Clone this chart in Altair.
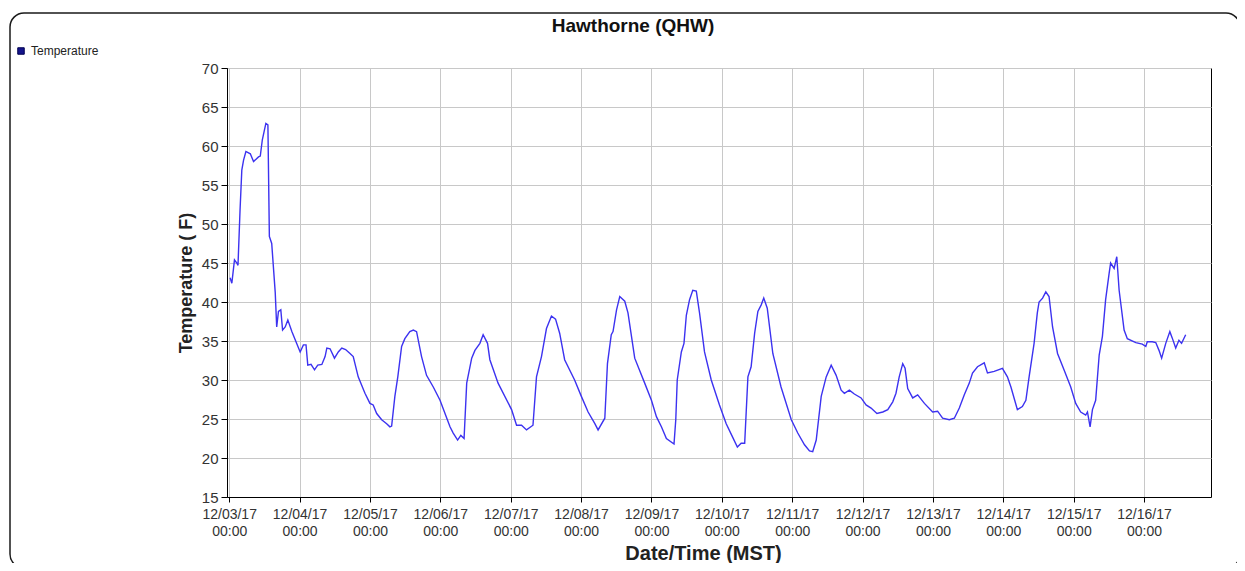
import altair as alt
import pandas as pd

# hours after 12/03/17 00:00 (MST) and temperature (F)
hours = [0.3, 0.9, 1.8, 2.6, 3.0, 3.7, 4.3, 4.9, 5.7, 7.2, 8.3, 10.0, 10.6, 11.3, 12.5, 13.2,
         13.7, 14.5, 15.7, 16.2, 16.8, 17.6, 18.2, 19.1, 20.0, 21.4, 24.2, 25.3, 26.2, 26.8,
         27.9, 29.1, 30.2, 31.6, 32.7, 33.3, 34.4, 35.9, 37.2, 38.4, 39.7, 41.2, 42.3, 44.0,
         46.3, 48.0, 49.1, 50.3, 52.0, 53.7, 54.8, 55.4, 56.5, 57.5, 58.8, 59.9, 61.6, 62.8,
         63.9, 65.6, 67.3, 69.6, 71.9, 73.6, 75.3, 76.4, 77.9, 79.0, 80.1, 81.0, 82.7, 83.8,
         85.5, 86.6, 88.1, 88.9, 91.7, 96.3, 98.0, 99.7, 101.4, 103.6, 104.8, 106.5, 108.2,
         109.9, 111.3, 112.7, 114.4, 117.8, 120.1, 122.4, 124.7, 125.8, 128.1, 129.0, 130.3,
         130.9, 132.1, 133.2, 134.9, 136.0, 138.3, 141.7, 144.0, 145.7, 147.4, 149.1, 151.7,
         152.3, 152.8, 154.2, 155.1, 155.9, 157.0, 158.1, 159.3, 160.4, 162.1, 164.4, 167.2,
         169.5, 171.4, 173.3, 174.6, 175.8, 176.9, 178.0, 179.2, 180.3, 181.4, 182.3, 183.5,
         185.4, 188.2, 191.7, 193.9, 196.2, 197.9, 199.0, 200.2, 201.9, 203.6, 205.3, 207.0,
         208.7, 209.8, 211.5, 213.2, 215.5, 217.2, 218.9, 220.9, 222.9, 224.6, 226.3, 227.4,
         228.5, 229.7, 230.5, 231.4, 233.1, 234.8, 237.1, 239.9, 241.6, 243.3, 245.6, 247.3,
         249.0, 250.7, 252.4, 253.5, 255.2, 257.5, 258.6, 260.9, 263.7, 265.4, 266.6, 268.8,
         270.5, 271.7, 272.8, 274.5, 275.6, 276.2, 277.4, 278.5, 279.6, 280.8, 282.5, 284.7,
         287.0, 288.7, 290.4, 292.1, 292.7, 293.6, 294.4, 295.5, 296.7, 297.8, 298.9, 300.1,
         300.6, 301.8, 302.7, 303.5, 305.2, 306.3, 309.2, 311.4, 312.6, 313.1, 314.8, 316.0,
         317.1, 318.0, 319.4, 320.8, 321.6, 322.8, 323.9, 324.8, 326.2]

temps = [43.1, 42.4, 45.4, 45.0, 44.7, 51.8, 56.9, 58.2, 59.3, 59.0, 58.0, 58.6, 58.7, 60.8, 62.9, 62.7,
         48.4, 47.5, 41.2, 36.8, 38.8, 39.0, 36.4, 36.8, 37.7, 36.2, 33.6, 34.5, 34.5, 31.9,
         32.0, 31.3, 31.9, 32.0, 33.0, 34.1, 34.0, 32.8, 33.6, 34.1, 33.9, 33.4, 33.0, 30.4,
         28.3, 27.0, 26.8, 25.7, 24.9, 24.4, 24.0, 24.1, 27.9, 30.4, 34.3, 35.3, 36.2, 36.4,
         36.2, 33.0, 30.6, 29.1, 27.4, 25.7, 24.0, 23.2, 22.3, 22.9, 22.5, 29.6, 32.8, 33.8,
         34.7, 35.8, 34.7, 32.6, 29.6, 26.2, 24.2, 24.2, 23.6, 24.2, 30.4, 33.0, 36.6,
         38.2, 37.8, 36.0, 32.6, 30.0, 27.9, 25.9, 24.4, 23.6, 25.1, 32.1, 35.8,
         36.2, 39.0, 40.7, 40.1, 38.6, 32.8, 29.6, 27.4, 25.3, 24.0, 22.5, 21.8,
         24.9, 30.0, 33.6, 34.7, 38.3, 40.3, 41.5, 41.4, 38.6, 33.6, 30.0, 26.8,
         24.4, 22.9, 21.4, 21.9, 21.9, 30.4, 31.7, 36.0, 38.8, 39.6, 40.5, 39.2,
         33.4, 29.1, 24.9, 23.2, 21.7, 20.9, 20.8, 22.3, 27.9, 30.4, 31.9, 30.6,
         28.7, 28.3, 28.7, 28.2, 27.7, 26.8, 26.4, 25.7, 25.9, 26.2, 27.2, 28.3,
         30.4, 32.1, 31.5, 28.9, 27.7, 28.1, 27.0, 25.9, 26.0, 25.1, 24.9, 25.1,
         26.4, 28.1, 29.6, 30.9, 31.7, 32.2, 30.9, 31.1, 31.5, 30.4, 29.1, 26.2,
         26.6, 27.4, 30.4, 34.7, 38.6, 40.0, 40.5, 41.3, 40.7, 36.8, 33.4, 31.3,
         29.1, 27.0, 25.9, 25.5, 25.9, 24.0, 26.2, 27.4, 33.2, 35.6, 40.3, 43.7,
         45.0, 44.3, 45.8, 41.5, 36.4, 35.3, 34.8, 34.6, 34.3, 34.9, 34.9, 34.8,
         33.8, 32.8, 34.7, 36.2, 35.4, 34.1, 35.1, 34.7, 35.8]

assert len(hours) == len(temps)

series_name = "Temperature"
tick_days = [3, 4, 5, 6, 7, 8, 9, 10, 11, 12, 13, 14, 15, 16]
y_ticks = [15, 20, 25, 30, 35, 40, 45, 50, 55, 60, 65, 70]

start = pd.Timestamp("2017-12-03 00:00")
times = [(start + pd.Timedelta(hours=h)).strftime("%Y-%m-%dT%H:%M:%SZ") for h in hours]
df = pd.DataFrame({"time": times, "temp": temps, "series": series_name})

FONT = "Liberation Sans"

x_enc = alt.X(
    "time:T",
    scale=alt.Scale(
        type="utc",
        domain=[
            alt.DateTime(year=2017, month=12, date=2, hours=23, minutes=15, utc=True),
            alt.DateTime(year=2017, month=12, date=16, hours=22, minutes=50, utc=True),
        ],
    ),
    axis=alt.Axis(
        values=[alt.DateTime(year=2017, month=12, date=d, hours=0, utc=True) for d in tick_days],
        labelExpr="[utcFormat(datum.value, '%m/%d/%y'), utcFormat(datum.value, '%H:%M')]",
        labelFontSize=14,
        labelLineHeight=17,
        labelPadding=5,
        labelColor="#333333",
        labelFont=FONT,
        tickSize=5,
        tickColor="#000000",
        domainColor="#000000",
        title="Date/Time (MST)",
        titleFont=FONT,
        titleFontSize=20,
        titleFontWeight="bold",
        titleColor="#222222",
        titleX=476,
        titleY=62,
        titleAlign="center",
        titleBaseline="alphabetic",
        gridColor="#c8c8c8",
        labelFlush=False,
        labelOverlap=False,
    ),
)

y_enc = alt.Y(
    "temp:Q",
    scale=alt.Scale(domain=[15, 70], nice=False, zero=False),
    axis=alt.Axis(
        values=y_ticks,
        labelFontSize=15,
        labelPadding=3,
        labelColor="#333333",
        labelFont=FONT,
        tickSize=6,
        tickColor="#000000",
        domainColor="#000000",
        title="Temperature ( F)",
        titleFont=FONT,
        titleFontSize=18,
        titleFontWeight="bold",
        titleColor="#222222",
        titleAngle=270,
        titleX=-36,
        titleBaseline="alphabetic",
        gridColor="#c8c8c8",
    ),
)

one = pd.DataFrame({"k": [0]})

# rounded panel border around the chart (decoration)
frame = alt.Chart(one).mark_rect(
    filled=False, stroke="#1a1a1a", strokeWidth=1.5, cornerRadius=14
).encode(x=alt.value(-217), x2=alt.value(1013), y=alt.value(-55), y2=alt.value(500))

line = alt.Chart(df).mark_line(color="#3c32f0", strokeWidth=1.4).encode(x=x_enc, y=y_enc)

legend_layer = alt.Chart(df).mark_square(opacity=0, size=1).encode(
    x=x_enc,
    y=y_enc,
    fill=alt.Fill(
        "series:N",
        scale=alt.Scale(range=["#14148c"]),
        legend=alt.Legend(
            title=None,
            orient="none",
            legendX=-212,
            legendY=-23,
            symbolType="square",
            symbolSize=42,
            symbolOpacity=1,
            symbolStrokeColor="#000050",
            symbolStrokeWidth=1,
            labelFontSize=12,
            labelFont=FONT,
            labelColor="#222222",
            labelOffset=4,
            padding=0,
        ),
    ),
)

chart = (
    alt.layer(frame, line, legend_layer)
    .properties(
        width=984,
        height=429,
        padding={"left": 219, "top": 60, "right": 26, "bottom": 66},
        autosize="none",
        title=alt.TitleParams(
            "Hawthorne (QHW)",
            font=FONT,
            fontSize=19,
            fontWeight="bold",
            color="#111111",
            anchor="middle",
            dx=-86,
            dy=39,
            offset=0,
            baseline="alphabetic",
        ),
    )
    .configure_view(stroke="#000000", strokeWidth=1)
    .configure_axis(grid=True, gridWidth=1)
)

chart.save("out.html", embed_options={"renderer": "svg", "actions": False})
